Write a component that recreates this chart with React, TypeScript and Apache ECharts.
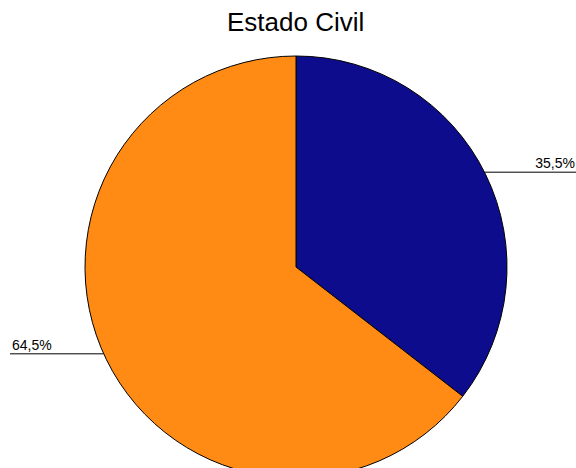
import React, { useEffect, useRef } from "react";
import * as echarts from "echarts";

const categories = ["Soltero", "Casado"];
const values = [35.5, 64.5];
const colors = ["#0c0c8c", "#ff8a14"];
const titleText = "Estado Civil";

const CX = 296;
const CY = 267;
const R = 211;
// small vertical nudges of the leader lines, per slice
const lineShift = [-2, -6];

export default function App() {
  const ref = useRef<HTMLDivElement>(null);
  useEffect(() => {
    if (!ref.current) return;
    const chart = echarts.init(ref.current, undefined, { renderer: "svg" });
    chart.setOption({
      animation: false,
      backgroundColor: "#ffffff",
      title: {
        text: titleText,
        left: 222,
        top: 4,
        textStyle: {
          fontFamily: "Liberation Sans",
          fontSize: 26,
          fontWeight: "normal",
          color: "#000",
        },
      },
      series: [
        {
          type: "pie",
          center: [CX, CY],
          radius: R,
          startAngle: 90,
          clockwise: true,
          data: categories.map((c, i) => ({
            name: c,
            value: values[i],
            itemStyle: { color: colors[i] },
          })),
          itemStyle: { borderColor: "#000", borderWidth: 1 },
          label: {
            show: true,
            position: "outside",
            fontFamily: "Liberation Sans",
            fontSize: 14,
            color: "#000",
            formatter: (p: any) => p.value.toFixed(1).replace(".", ",") + "%",
          },
          labelLine: {
            show: true,
            length: 0,
            length2: 20,
            lineStyle: { color: "#000", width: 1 },
          },
          labelLayout: (params: any) => {
            const pts = params.labelLinePoints;
            if (!pts) return {};
            const p0 = pts[0];
            const right = p0[0] > CX;
            const y = p0[1] + (lineShift[params.dataIndex] || 0);
            const dx = Math.sqrt(Math.max(0, R * R - (y - CY) * (y - CY)));
            const x0 = right ? CX + dx : CX - dx;
            const w = chart.getWidth();
            const endX = right ? w : 10;
            return {
              x: right ? w - 1 : 12,
              y: y - 2,
              align: right ? "right" : "left",
              verticalAlign: "bottom",
              labelLinePoints: [[x0, y], [x0, y], [endX, y]],
            };
          },
          emphasis: { disabled: true },
        },
      ],
    });
    return () => chart.dispose();
  }, []);
  return (
    <div
      ref={ref}
      style={{ position: "fixed", left: 0, top: 0, width: 576, height: 468 }}
    />
  );
}
